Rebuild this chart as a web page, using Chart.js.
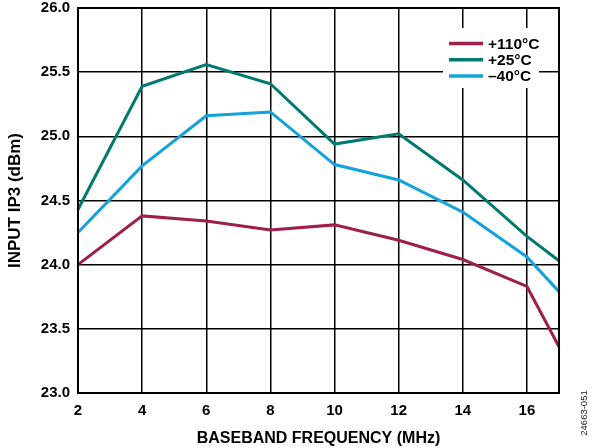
<!DOCTYPE html>
<html>
<head>
<meta charset="utf-8">
<script src="https://cdn.jsdelivr.net/npm/chart.js@4/dist/chart.umd.min.js"></script>
<style>
  html, body { margin: 0; padding: 0; background: #fff; }
  #wrap { width: 592px; height: 448px; position: relative; }
</style>
</head>
<body>
<div id="wrap"><canvas id="c" width="592" height="448"></canvas></div>
<script>
// Baseband frequency points (MHz)
const freqMHz = [2, 4, 6, 8, 10, 12, 14, 16, 17];
// Input IP3 (dBm) per temperature
const ip3Hot  = [24.00, 24.38, 24.34, 24.27, 24.31, 24.19, 24.04, 23.83, 23.36];
const ip3Room = [24.43, 25.39, 25.56, 25.41, 24.94, 25.02, 24.66, 24.22, 24.03];
const ip3Cold = [24.25, 24.77, 25.16, 25.19, 24.78, 24.66, 24.41, 24.06, 23.79];
const seriesLabels = ['+110°C', '+25°C', '\u201340°C'];
const seriesColors = ['#A01E4B', '#007A70', '#12A2DC'];
const xTickLabels = [2, 4, 6, 8, 10, 12, 14, 16];
const FONT = '"Liberation Sans", Arial, sans-serif';

const toPoints = ys => freqMHz.map((x, i) => ({ x, y: ys[i] }));

// Legend box drawn inside the plot, top right, plus frame and figure code
const insideLegend = {
  id: 'insideLegend',
  afterDatasetsDraw(chart) {
    const ctx = chart.ctx;
    ctx.save();
    ctx.fillStyle = '#fff';
    ctx.fillRect(443, 28, 96, 60);
    ctx.font = 'bold 15.5px ' + FONT;
    ctx.textBaseline = 'middle';
    ctx.textAlign = 'left';
    chart.data.datasets.forEach((ds, i) => {
      const y = 43.5 + i * 16.2;
      ctx.strokeStyle = ds.borderColor;
      ctx.lineWidth = 3.5;
      ctx.beginPath();
      ctx.moveTo(449, y);
      ctx.lineTo(483, y);
      ctx.stroke();
      ctx.fillStyle = '#000';
      ctx.fillText(ds.label, 488, y + 1);
    });
    ctx.restore();
  },
  afterDraw(chart) {
    const ctx = chart.ctx;
    const a = chart.chartArea;
    ctx.save();
    ctx.strokeStyle = '#000';
    ctx.lineWidth = 2;
    ctx.strokeRect(a.left, a.top, a.right - a.left, a.bottom - a.top);
    ctx.translate(584, 413);
    ctx.rotate(-Math.PI / 2);
    ctx.font = '9.5px ' + FONT;
    ctx.fillStyle = '#222';
    ctx.textAlign = 'center';
    ctx.textBaseline = 'middle';
    ctx.fillText('24663-051', 0, 0);
    ctx.restore();
  }
};

new Chart(document.getElementById('c'), {
  type: 'line',
  data: {
    datasets: [ip3Hot, ip3Room, ip3Cold].map((ys, i) => ({
      label: seriesLabels[i],
      data: toPoints(ys),
      borderColor: seriesColors[i],
      backgroundColor: seriesColors[i],
      borderWidth: 3,
      pointRadius: 0,
      tension: 0,
      clip: 2
    }))
  },
  options: {
    responsive: false,
    animation: false,
    devicePixelRatio: 1,
    layout: { padding: { top: 8, right: 33, left: 0, bottom: 0 } },
    plugins: { legend: { display: false }, tooltip: { enabled: false } },
    scales: {
      x: {
        type: 'linear',
        min: 2,
        max: 17,
        afterBuildTicks(scale) {
          scale.ticks = xTickLabels.concat([17]).map(v => ({ value: v }));
        },
        ticks: {
          autoSkip: false,
          maxRotation: 0,
          padding: 9,
          color: '#000',
          font: { family: FONT, size: 15, weight: 'bold' },
          callback: v => (xTickLabels.includes(v) ? String(v) : '')
        },
        grid: { color: '#000', lineWidth: 1.5, drawTicks: false },
        border: { display: false },
        title: {
          display: true,
          text: 'BASEBAND FREQUENCY (MHz)',
          color: '#000',
          font: { family: FONT, size: 16, weight: 'bold' },
          padding: { top: 5, bottom: 0 }
        },
        afterFit(scale) { scale.height = 55; }
      },
      y: {
        min: 23,
        max: 26,
        ticks: {
          stepSize: 0.5,
          padding: 8,
          color: '#000',
          font: { family: FONT, size: 15, weight: 'bold' },
          callback: v => Number(v).toFixed(1)
        },
        grid: { color: '#000', lineWidth: 1.5, drawTicks: false },
        border: { display: false },
        title: {
          display: true,
          text: 'INPUT IP3 (dBm)',
          color: '#000',
          font: { family: FONT, size: 17, weight: 'bold' },
          padding: { top: 5, bottom: 0 }
        },
        afterFit(scale) {
          scale.width = 78;
          scale.paddingTop = 0;
          scale.paddingBottom = 0;
        }
      }
    }
  },
  plugins: [insideLegend]
});
</script>
</body>
</html>
